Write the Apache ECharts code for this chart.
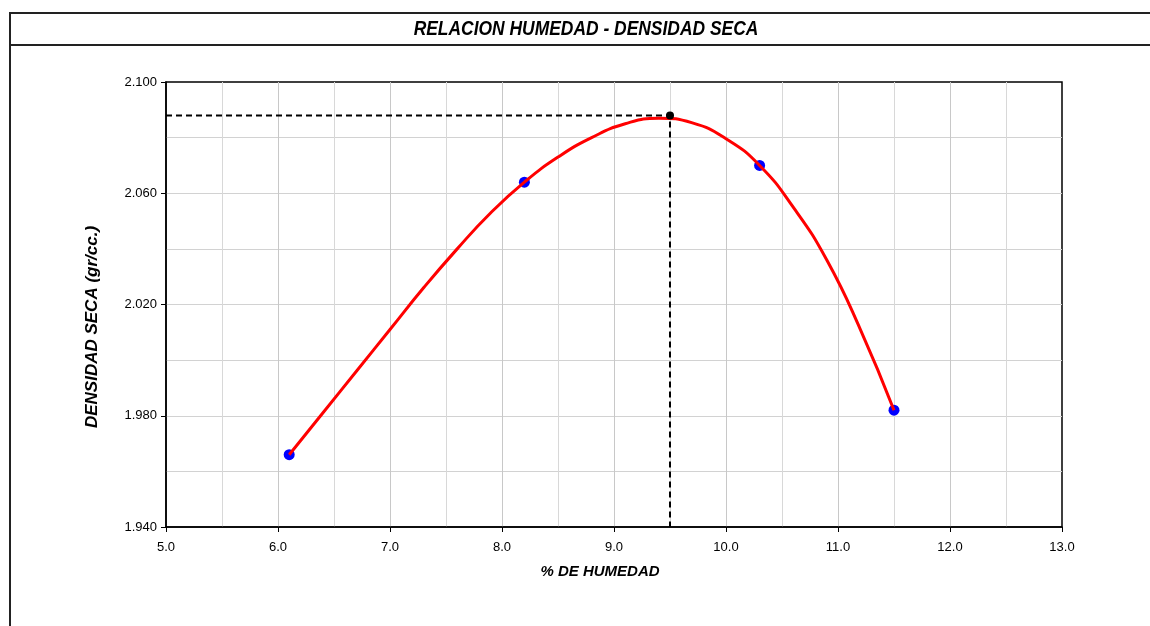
<!DOCTYPE html>
<html>
<head>
<meta charset="utf-8">
<script src="https://cdn.jsdelivr.net/npm/echarts@6/dist/echarts.min.js"></script>
<style>
  html, body { margin: 0; padding: 0; background: #ffffff; }
  #chart { width: 1150px; height: 626px; }
</style>
</head>
<body>
<div id="chart"></div>
<script>
// Texts
const chartTitle = 'RELACION HUMEDAD - DENSIDAD SECA';
const xTitle = '% DE HUMEDAD';
const yTitle = 'DENSIDAD SECA (gr/cc.)';

// Compaction test points (moisture %, dry density gr/cc)
const moisture = [6.1, 8.2, 10.3, 11.5];
const dryDensity = [1.966, 2.064, 2.070, 1.982];

// Fitted compaction curve, sampled every 0.3 % of moisture
const curveMoisture = [6.1, 6.4, 6.7, 7.0, 7.3, 7.6, 7.9, 8.2, 8.5, 8.8, 9.1, 9.4, 9.7, 10.0, 10.3, 10.6, 10.9, 11.2, 11.5];
const curveDensity = [1.966, 1.981, 1.996, 2.011, 2.026, 2.040, 2.053, 2.064, 2.073, 2.080, 2.085, 2.087, 2.0853, 2.0796, 2.070, 2.055, 2.036, 2.011, 1.982];

// Optimum moisture content and maximum dry density
const optimumMoisture = 9.5;
const maxDryDensity = 2.088;

// Axis ranges and tick labels
const xRange = [5.0, 13.0];
const yRange = [1.94, 2.10];
const xTicks = [5, 6, 7, 8, 9, 10, 11, 12, 13];
const yTicks = [1.94, 1.98, 2.02, 2.06, 2.10];

const zip = (a, b) => a.map((v, i) => [v, b[i]]);

const FONT = "'Liberation Sans', Arial, sans-serif";

const chart = echarts.init(document.getElementById('chart'), null, { renderer: 'canvas' });

const option = {
  animation: false,
  backgroundColor: '#ffffff',
  grid: {
    left: 166, right: 88, top: 82, bottom: 99,
    show: true, borderColor: '#000000', borderWidth: 1.5,
    backgroundColor: 'transparent'
  },
  xAxis: [{
    type: 'value',
    min: xRange[0], max: xRange[1], interval: 1,
    axisLine: { show: true, lineStyle: { color: '#000000', width: 1.5 } },
    axisTick: { show: true, inside: false, length: 5, lineStyle: { color: '#000000', width: 1 } },
    axisLabel: {
      customValues: xTicks,
      color: '#000000', fontFamily: FONT, fontSize: 13, margin: 14,
      formatter: v => v.toFixed(1)
    },
    splitLine: { show: true, showMinLine: false, showMaxLine: false, lineStyle: { color: '#c8c8c8', width: 1 } },
    minorTick: { show: false, splitNumber: 2 },
    minorSplitLine: { show: true, lineStyle: { color: '#d8d8d8', width: 1 } }
  }],
  yAxis: [{
    // gridlines every 0.020
    type: 'value',
    min: yRange[0], max: yRange[1], interval: 0.02,
    axisLine: { show: true, lineStyle: { color: '#000000', width: 1.5 } },
    axisTick: { show: false },
    axisLabel: { show: false },
    splitLine: { show: true, showMinLine: false, showMaxLine: false, lineStyle: { color: '#d2d2d2', width: 1 } }
  }, {
    // labelled ticks every 0.040
    type: 'value', position: 'left', offset: 0,
    min: yRange[0], max: yRange[1],
    axisLine: { show: false },
    splitLine: { show: false },
    axisTick: { show: true, inside: false, length: 5, customValues: yTicks, lineStyle: { color: '#000000', width: 1 } },
    axisLabel: {
      customValues: yTicks,
      color: '#000000', fontFamily: FONT, fontSize: 13, margin: 9,
      formatter: v => v.toFixed(3)
    }
  }],
  graphic: [
    // outer frame and title band
    { type: 'line', shape: { x1: 9, y1: 13, x2: 1150, y2: 13 }, style: { stroke: '#222222', lineWidth: 2 }, z: 10 },
    { type: 'line', shape: { x1: 9, y1: 45, x2: 1150, y2: 45 }, style: { stroke: '#222222', lineWidth: 2 }, z: 10 },
    { type: 'line', shape: { x1: 10, y1: 12, x2: 10, y2: 626 }, style: { stroke: '#222222', lineWidth: 2 }, z: 10 },
    {
      type: 'text', x: 586, y: 29, scaleX: 0.83, z: 10,
      style: {
        text: chartTitle, fill: '#000000', font: `italic bold 21px ${FONT}`,
        textAlign: 'center', textVerticalAlign: 'middle'
      }
    },
    {
      type: 'text', x: 600, y: 572, z: 10,
      style: {
        text: xTitle, fill: '#000000', font: `italic bold 15px ${FONT}`,
        textAlign: 'center', textVerticalAlign: 'middle'
      }
    },
    {
      type: 'text', x: 92, y: 327, rotation: Math.PI / 2, z: 10,
      style: {
        text: yTitle, fill: '#000000', font: `italic bold 17px ${FONT}`,
        textAlign: 'center', textVerticalAlign: 'middle'
      }
    }
  ],
  series: [
    {
      name: 'guide',
      type: 'line',
      data: [[xRange[0], maxDryDensity], [optimumMoisture, maxDryDensity], [optimumMoisture, yRange[0]]],
      symbol: 'none',
      lineStyle: { color: '#000000', width: 2, type: [6, 4] },
      z: 2, silent: true
    },
    {
      name: 'ensayos',
      type: 'scatter',
      data: zip(moisture, dryDensity),
      symbol: 'circle', symbolSize: 11,
      itemStyle: { color: '#0000ff', opacity: 1 },
      z: 3
    },
    {
      name: 'curva',
      type: 'line',
      data: zip(curveMoisture, curveDensity),
      smooth: 0.5,
      showSymbol: false, symbol: 'none',
      lineStyle: { color: '#ff0000', width: 3 },
      z: 4
    },
    {
      name: 'optimo',
      type: 'scatter',
      data: [[optimumMoisture, maxDryDensity]],
      symbol: 'circle', symbolSize: 8,
      itemStyle: { color: '#000000', opacity: 1 },
      z: 5
    }
  ]
};

chart.setOption(option);
</script>
</body>
</html>
